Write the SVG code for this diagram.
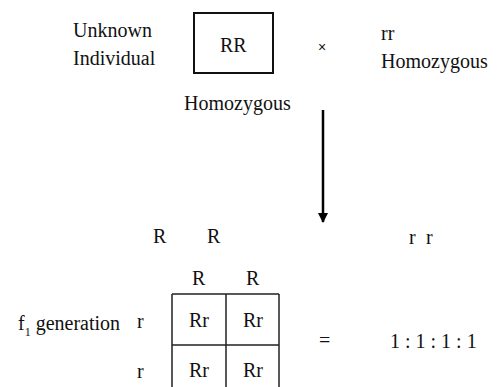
<svg xmlns="http://www.w3.org/2000/svg" width="503" height="387" viewBox="0 0 503 387">
<style>
text{font-family:'Liberation Serif','DejaVu Serif',serif;font-size:20px;fill:#111}
.g{stroke:#222;stroke-width:1.5;fill:none}
</style>
<defs>
<marker id="ah" viewBox="0 0 10 10" refX="9" refY="5" markerWidth="10" markerHeight="10" markerUnits="userSpaceOnUse" orient="auto"><path d="M0,0 L10,5 L0,10 Z" fill="#000"/></marker>
</defs>
<rect width="503" height="387" fill="#fff"/>
<g id="unknown"><text x="73" y="37">Unknown</text><text x="73" y="65">Individual</text></g>
<g id="parentRR"><rect x="194" y="13" width="79" height="60" fill="none" stroke="#111" stroke-width="2"/><text x="220" y="52">RR</text><text x="184" y="110">Homozygous</text></g>
<g id="cross"><text x="318" y="52" style="font-size:14px;font-family:'Liberation Sans',sans-serif">×</text></g>
<g id="parentrr"><text x="381" y="40">rr</text><text x="381" y="68">Homozygous</text></g>
<g id="connectors"><line x1="323" y1="110" x2="323" y2="222" stroke="#000" stroke-width="2.5" marker-end="url(#ah)"/></g>
<g id="gametes"><text x="153" y="243">R</text><text x="207" y="243">R</text><text x="409" y="244">r</text><text x="426" y="244">r</text></g>
<g id="punnett">
<text x="192" y="285">R</text><text x="246" y="285">R</text>
<text x="18" y="330">f<tspan dy="6" style="font-size:12px">1</tspan><tspan dy="-6"> generation</tspan></text>
<text x="137" y="328">r</text><text x="137" y="378">r</text>
<path class="g" d="M172,294 H279 M172,345 H279 M172,294 V387 M226,294 V387 M279,294 V387"/>
<text x="189" y="327">Rr</text><text x="243" y="327">Rr</text>
<text x="189" y="377">Rr</text><text x="243" y="377">Rr</text>
</g>
<g id="ratio"><text x="319" y="347">=</text><text x="390" y="348">1 : 1 : 1 : 1</text></g>
</svg>
